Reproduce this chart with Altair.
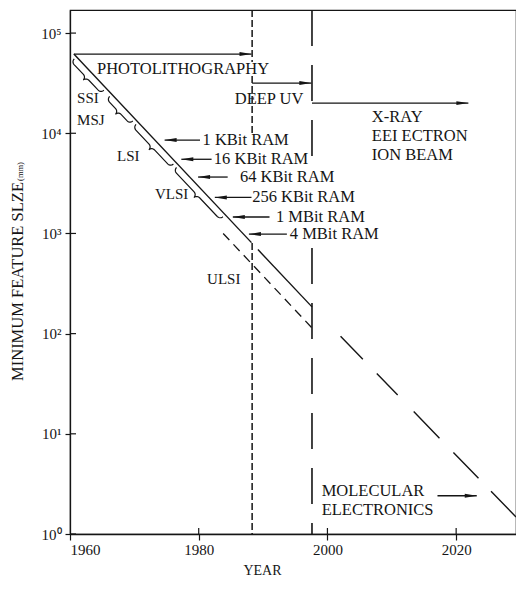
import altair as alt
import numpy as np
import pandas as pd

FONT = "Liberation Serif"
INK = "#151515"

# ---- scales / ticks ----
X_DOMAIN = [1960, 2029.3]
Y_DOMAIN = [1, 170000]
X_TICKS = [1960, 1980, 2000, 2020]
X_INNER_TICKS = [1980, 2000, 2020]
Y_TICKS = [1, 10, 100, 1000, 10000, 100000]

# ---- trend lines (year, minimum feature size) ----
SOLID_SEG = ["a", "a", "b", "b"]
SOLID_YEAR = [1960.6, 1988.2, 1989.2, 1997.6]
SOLID_SIZE = [61700, 810, 690, 185]

ULSI_YEAR = [1983.8, 1997.6]
ULSI_SIZE = [1000, 114]

FUTURE_YEAR = [1997.6, 2029.3]
FUTURE_SIZE = [185, 1.48]

# ---- technology boundaries (vertical dashed lines, visible pieces) ----
VSEG_KIND = ["short", "short", "short", "long", "long"]
VSEG_YEAR = [1988.3, 1988.3, 1988.3, 1997.6, 1997.6]
VSEG_TOP = [170000, 37300, 802, 170000, 715]
VSEG_BOT = [51400, 10000, 1, 4800, 1]

# ---- technology arrows (pointing right) ----
TECH_START = [1960.6, 1988.3, 1997.6, 2017.1]
TECH_END = [1988.2, 1997.5, 2021.9, 2023.2]
TECH_SIZE = [61700, 31700, 20000, 2.41]

# ---- memory arrows (pointing left) ----
RAM_LABEL = ["1 KBit RAM", "16 KBit RAM", "64 KBit RAM",
             "256 KBit RAM", "1 MBit RAM", "4 MBit RAM"]
RAM_ARROW_START = [1974.7, 1977.3, 1979.9, 1982.5, 1985.3, 1987.8]
RAM_ARROW_END = [1980.2, 1982.0, 1984.5, 1988.2, 1991.0, 1993.7]
RAM_TEXT_YEAR = [1980.6, 1982.35, 1986.4, 1988.3, 1992.0, 1994.15]
RAM_SIZE = [8550, 5500, 3656, 2290, 1460, 986]

# ---- region notes ----
NOTE_TEXT = ["PHOTOLITHOGRAPHY", "DEEP UV", "X-RAY", "EEI ECTRON", "ION BEAM",
             "MOLECULAR", "ELECTRONICS"]
NOTE_YEAR = [1964.2, 1985.6, 2006.9, 2006.9, 2006.9, 1999.1, 1999.1]
NOTE_SIZE = [44300, 21900, 14540, 9400, 6070, 2.70, 1.735]

# ---- integration levels ----
LEVEL_TEXT = ["SSI", "MSJ", "LSI", "VLSI", "ULSI"]
LEVEL_YEAR = [1961.1, 1961.1, 1967.3, 1973.2, 1981.3]
LEVEL_SIZE = [22400, 13550, 5920, 2473, 351]

BRACE_NAME = ["SSI", "MSI", "LSI", "VLSI"]
BRACE_START = [1961.0, 1966.5, 1970.6, 1976.9]
BRACE_END = [1965.6, 1970.1, 1976.4, 1984.1]

# ---- geometry helpers (for brace decoration only) ----
W, H = 446, 524
LOGTOP = np.log10(Y_DOMAIN[1])
PXY = W / (X_DOMAIN[1] - X_DOMAIN[0])
PXD = H / LOGTOP


def to_px(year, val):
    return (year - X_DOMAIN[0]) * PXY, (LOGTOP - np.log10(val)) * PXD


def from_px(px, py):
    return X_DOMAIN[0] + px / PXY, 10 ** (LOGTOP - py / PXD)


def on_line(year):
    t0, t1 = SOLID_YEAR[0], SOLID_YEAR[-1]
    l0, l1 = np.log10(SOLID_SIZE[0]), np.log10(SOLID_SIZE[-1])
    return 10 ** (l0 + (year - t0) * (l1 - l0) / (t1 - t0))


def brace(name, y0, y1, gap=3.0, r=4.0, n=8):
    ax, ay = to_px(y0, on_line(y0))
    bx, by = to_px(y1, on_line(y1))
    L = np.hypot(bx - ax, by - ay)
    ux, uy = (bx - ax) / L, (by - ay) / L
    nx, ny = -uy, ux
    a = np.linspace(0, np.pi / 2, n)
    half = list(zip(r - r * np.cos(a), r * np.sin(a)))
    half += list(zip(L / 2 - r + r * np.sin(a), 2 * r - r * np.cos(a)))
    full = half + [(L - s, d) for s, d in reversed(half)]
    rows = []
    for i, (s, d) in enumerate(full):
        px = ax + s * ux + (gap + d) * nx
        py = ay + s * uy + (gap + d) * ny
        yr, v = from_px(px, py)
        rows.append({"brace": name, "i": i, "year": yr, "size": v})
    return rows


brace_rows = []
for nm, s0, s1 in zip(BRACE_NAME, BRACE_START, BRACE_END):
    brace_rows += brace(nm, s0, s1)

# ---- tables ----
solid_df = pd.DataFrame({"seg": SOLID_SEG, "year": SOLID_YEAR, "size": SOLID_SIZE})
ulsi_df = pd.DataFrame({"year": ULSI_YEAR, "size": ULSI_SIZE})
future_df = pd.DataFrame({"year": FUTURE_YEAR, "size": FUTURE_SIZE})
vseg_df = pd.DataFrame({"kind": VSEG_KIND, "year": VSEG_YEAR, "top": VSEG_TOP, "bot": VSEG_BOT})
tech_df = pd.DataFrame({"start": TECH_START, "end": TECH_END, "size": TECH_SIZE})
ram_df = pd.DataFrame({"label": RAM_LABEL, "start": RAM_ARROW_START, "end": RAM_ARROW_END,
                       "tx": RAM_TEXT_YEAR, "size": RAM_SIZE})
note_df = pd.DataFrame({"text": NOTE_TEXT, "year": NOTE_YEAR, "size": NOTE_SIZE})
level_df = pd.DataFrame({"text": LEVEL_TEXT, "year": LEVEL_YEAR, "size": LEVEL_SIZE})
brace_df = pd.DataFrame(brace_rows)
ytick_df = pd.DataFrame({"v": Y_TICKS})
xtick_df = pd.DataFrame({"year": X_INNER_TICKS})
unit_df = pd.DataFrame({"t": ["(mm)"]})

# ---- encodings ----
XS = alt.Scale(domain=X_DOMAIN, nice=False, zero=False)
YS = alt.Scale(type="log", domain=Y_DOMAIN, nice=False)

XAXIS = alt.Axis(values=X_TICKS, format="d", title="YEAR", grid=False, labelFlush=True,
                 tickSize=6, labelPadding=2, labelFont=FONT, labelFontSize=15,
                 titleFont=FONT, titleFontSize=14, titleFontWeight="normal",
                 titleX=192, titleY=29, titleAlign="center", titleBaseline="top",
                 domainColor=INK, tickColor=INK, labelColor=INK, titleColor=INK,
                 domainWidth=1.3, tickWidth=1.2)
YAXIS = alt.Axis(values=Y_TICKS, grid=False, title="MINIMUM FEATURE SLZE",
                 labelExpr="'10' + ['\u2070','\u00b9','\u00b2','\u00b3','\u2074','\u2075'][round(log(datum.value) / LN10)]",
                 tickSize=5, labelPadding=4, labelFont=FONT, labelFontSize=15,
                 titleFont=FONT, titleFontSize=16.5, titleFontWeight="normal",
                 titleX=-53, titleY=271, titleAngle=270, titleAlign="center",
                 titleBaseline="middle",
                 domainColor=INK, tickColor=INK, labelColor=INK, titleColor=INK,
                 domainWidth=1.3, tickWidth=1.2)


def X(field):
    return alt.X(field, type="quantitative", scale=XS, axis=XAXIS)


def Y(field):
    return alt.Y(field, type="quantitative", scale=YS, axis=YAXIS)


RIGHT_HEAD = "M0,0L-2,-0.33L-2,0.33Z"
LEFT_HEAD = "M0,0L2,-0.33L2,0.33Z"

solid = alt.Chart(solid_df).mark_line(color=INK, strokeWidth=1.4).encode(
    x=X("year"), y=Y("size"), detail="seg:N")
ulsi = alt.Chart(ulsi_df).mark_line(color=INK, strokeWidth=1.3, strokeDash=[9, 6]).encode(
    x=X("year"), y=Y("size"))
future = alt.Chart(future_df).mark_line(
    color=INK, strokeWidth=1.4,
    strokeDash=[0, 41, 32, 20, 30, 23, 37, 20, 36, 18, 60]).encode(
    x=X("year"), y=Y("size"))

vshort = alt.Chart(vseg_df).transform_filter("datum.kind == 'short'").mark_rule(
    color=INK, strokeWidth=1.5, strokeDash=[7, 3]).encode(
    x=X("year"), y=Y("top"), y2="bot")
vlong = alt.Chart(vseg_df).transform_filter("datum.kind == 'long'").mark_rule(
    color=INK, strokeWidth=1.6, strokeDash=[36, 19]).encode(
    x=X("year"), y=Y("top"), y2="bot")

tech_line = alt.Chart(tech_df).mark_rule(color=INK, strokeWidth=1.3).encode(
    x=X("start"), x2="end", y=Y("size"))
tech_head = alt.Chart(tech_df).mark_point(shape=RIGHT_HEAD, size=144, filled=True,
                                          color=INK, opacity=1, strokeWidth=0).encode(
    x=X("end"), y=Y("size"))

ram_line = alt.Chart(ram_df).mark_rule(color=INK, strokeWidth=1.3).encode(
    x=X("start"), x2="end", y=Y("size"))
ram_head = alt.Chart(ram_df).mark_point(shape=LEFT_HEAD, size=144, filled=True,
                                        color=INK, opacity=1, strokeWidth=0).encode(
    x=X("start"), y=Y("size"))
ram_text = alt.Chart(ram_df).mark_text(align="left", baseline="middle", font=FONT,
                                       fontSize=16.5, color=INK).encode(
    x=X("tx"), y=Y("size"), text="label:N")

notes = alt.Chart(note_df).mark_text(align="left", baseline="middle", font=FONT,
                                     fontSize=16.5, color=INK).encode(
    x=X("year"), y=Y("size"), text="text:N")
levels = alt.Chart(level_df).mark_text(align="left", baseline="middle", font=FONT,
                                       fontSize=15, color=INK).encode(
    x=X("year"), y=Y("size"), text="text:N")

braces = alt.Chart(brace_df).mark_line(color=INK, strokeWidth=1.2).encode(
    x=X("year"), y=Y("size"), detail="brace:N", order="i:Q")

ytick_in = alt.Chart(ytick_df).mark_rule(color=INK, strokeWidth=1.2).encode(
    y=Y("v"), x=alt.value(0), x2=alt.value(6))
xtick_in = alt.Chart(xtick_df).mark_rule(color=INK, strokeWidth=1.2).encode(
    x=X("year"), y=alt.value(H - 6), y2=alt.value(H))

unit = alt.Chart(unit_df).mark_text(angle=270, font=FONT, fontSize=8.5, color=INK,
                                    align="center", baseline="middle").encode(
    text="t:N", x=alt.value(-50.5), y=alt.value(161.5))

chart = alt.layer(
    vshort, vlong, solid, ulsi, future, braces,
    tech_line, tech_head, ram_line, ram_head, ram_text, notes, levels,
    ytick_in, xtick_in, unit,
).properties(
    width=W, height=H,
    autosize=alt.AutoSizeParams(type="none"),
    padding={"left": 62, "top": 2, "right": 0, "bottom": 46},
    background="white",
).configure_view(stroke=INK, strokeWidth=1.2)

chart.save("out.html", embed_options={"renderer": "svg", "actions": False})
